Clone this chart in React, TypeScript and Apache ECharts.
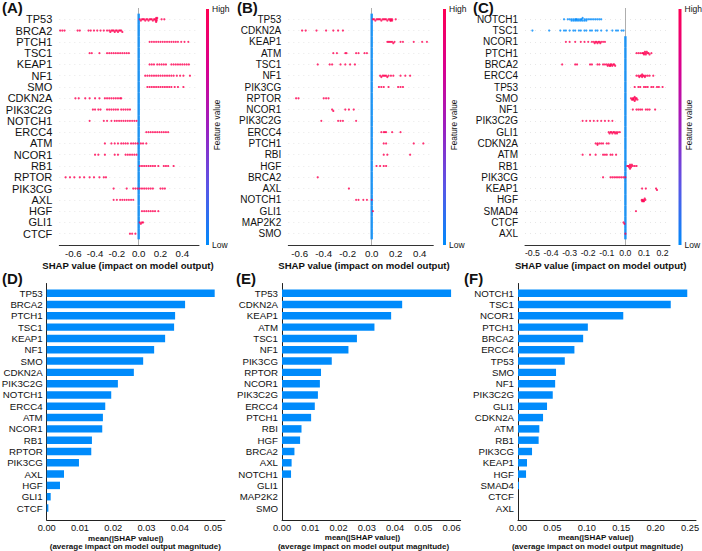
import React, { useEffect, useRef } from "react";
import * as echarts from "echarts";

// Feature order of each model (top row: beeswarm, bottom row: mean |SHAP| bars)
const genesA = ["TP53", "BRCA2", "PTCH1", "TSC1", "KEAP1", "NF1", "SMO", "CDKN2A", "PIK3C2G", "NOTCH1", "ERCC4", "ATM", "NCOR1", "RB1", "RPTOR", "PIK3CG", "AXL", "HGF", "GLI1", "CTCF"];
const genesB = ["TP53", "CDKN2A", "KEAP1", "ATM", "TSC1", "NF1", "PIK3CG", "RPTOR", "NCOR1", "PIK3C2G", "ERCC4", "PTCH1", "RBI", "HGF", "BRCA2", "AXL", "NOTCH1", "GLI1", "MAP2K2", "SMO"];
const genesC = ["NOTCH1", "TSC1", "NCOR1", "PTCH1", "BRCA2", "ERCC4", "TP53", "SMO", "NF1", "PIK3C2G", "GLI1", "CDKN2A", "ATM", "RB1", "PIK3CG", "KEAP1", "HGF", "SMAD4", "CTCF", "AXL"];

// SHAP values of the samples away from zero, one list per feature row
const shapA: number[][] = [
  [0.01, 0.02, 0.03, 0.04, 0.05, 0.06, 0.07, 0.08, 0.09, 0.10, 0.11, 0.12, 0.13, 0.14, 0.15, 0.155, 0.16, 0.16, 0.165, 0.165, 0.17, 0.21, 0.235],
  [-0.72, -0.70, -0.68, -0.56, -0.54, -0.46, -0.44, -0.41, -0.38, -0.35, -0.32, -0.29, -0.27, -0.26, -0.25, -0.24, -0.23, -0.22, -0.21, -0.20, -0.19, -0.18, -0.17, -0.16, -0.15],
  [0.10, 0.12, 0.14, 0.16, 0.18, 0.20, 0.22, 0.24, 0.26, 0.28, 0.30, 0.32, 0.34, 0.36, 0.39, 0.42, 0.455],
  [-0.45, -0.43, -0.36, -0.29, -0.27, -0.25, -0.23, -0.21, -0.19, -0.17, -0.15, -0.13, -0.11, -0.09],
  [0.10, 0.12, 0.14, 0.17, 0.19, 0.21, 0.23, 0.25, 0.30, 0.32, 0.34, 0.36, 0.38, 0.40, 0.42, 0.44, 0.46],
  [0.06, 0.08, 0.10, 0.12, 0.14, 0.16, 0.18, 0.20, 0.22, 0.24, 0.26, 0.28, 0.30, 0.32, 0.35, 0.38, 0.41, 0.47],
  [0.08, 0.10, 0.12, 0.14, 0.16, 0.18, 0.20, 0.22, 0.24, 0.26, 0.28, 0.30, 0.33, 0.36, 0.41],
  [-0.58, -0.55, -0.49, -0.45, -0.40, -0.36, -0.31, -0.29, -0.27, -0.25, -0.23, -0.21, -0.19, -0.17, -0.16],
  [-0.42, -0.40, -0.37, -0.35, -0.29, -0.27, -0.25, -0.23, -0.21, -0.19, -0.16, -0.14, -0.12, -0.10, -0.08],
  [-0.45, -0.32, -0.29, -0.25, -0.22, -0.20, -0.18, -0.16, -0.14, -0.12, -0.10, -0.08, -0.06, -0.04, -0.02],
  [0.07, 0.09, 0.11, 0.13, 0.15, 0.17, 0.19, 0.21, 0.23, 0.25, 0.27],
  [-0.31, -0.25, -0.22, -0.19, -0.16, -0.14, -0.12, -0.10, -0.07, -0.05, -0.03, -0.01, 0.02, 0.04, 0.07],
  [-0.40, -0.37, -0.31, -0.22, -0.19, -0.12, -0.10, -0.08, -0.06, -0.04, -0.02],
  [0.01, 0.03, 0.05, 0.07, 0.09, 0.11, 0.13, 0.15, 0.18, 0.23, 0.25, 0.27, 0.32],
  [-0.67, -0.63, -0.59, -0.54, -0.50, -0.45, -0.41, -0.36, -0.32, -0.30],
  [-0.23, -0.11, -0.05, -0.03, -0.01, 0.01, 0.03, 0.05, 0.07, 0.09, 0.11, 0.13, 0.20, 0.22, 0.24],
  [-0.23, -0.20, -0.17, -0.15, -0.13, -0.11, -0.09, -0.07, -0.05],
  [0.03, 0.05, 0.07, 0.09, 0.11, 0.13, 0.15, 0.18],
  [0.01, 0.02, 0.03, 0.04],
  [-0.08, -0.06, -0.03],
];

const shapB: number[][] = [
  [0.01, 0.02, 0.03, 0.04, 0.05, 0.06, 0.07, 0.08, 0.09, 0.10, 0.11, 0.12, 0.13, 0.14, 0.15, 0.155, 0.16, 0.16, 0.17, 0.17, 0.20],
  [-0.58, -0.55, -0.46, -0.38, -0.32, -0.28, -0.24],
  [0.13, 0.14, 0.15, 0.16, 0.17, 0.18, 0.19, 0.24, 0.26, 0.35, 0.42, 0.46],
  [-0.32, -0.29, -0.22, -0.21, -0.13, -0.11, -0.06, -0.04],
  [-0.45, -0.35, -0.33, -0.26, -0.22, -0.18, -0.14],
  [0.07, 0.08, 0.09, 0.10, 0.11, 0.12, 0.13, 0.14, 0.16, 0.18, 0.24, 0.28, 0.32],
  [0.06, 0.08, 0.10, 0.14, 0.22, 0.24, 0.26],
  [-0.63, -0.61, -0.40, -0.38, -0.36],
  [-0.33, -0.32, -0.22, -0.19, -0.15],
  [-0.42, -0.28, -0.26, -0.24, -0.13],
  [0.08, 0.10, 0.11, 0.12, 0.17, 0.24],
  [0.10, 0.12, 0.35, 0.43],
  [0.10, 0.13, 0.32],
  [0.04, 0.07, 0.10, 0.12],
  [-0.45],
  [-0.19],
  [-0.13, -0.11, -0.07, -0.04, 0.0],
  [0.01],
  [],
  [],
];

const shapC: number[][] = [
  [-0.33, -0.31, -0.30, -0.29, -0.29, -0.28, -0.28, -0.27, -0.27, -0.265, -0.26, -0.26, -0.25, -0.25, -0.24, -0.24, -0.235, -0.23, -0.23, -0.22, -0.22, -0.21, -0.21, -0.20, -0.19, -0.18, -0.17, -0.16, -0.15, -0.14, -0.13],
  [-0.50, -0.41, -0.35, -0.33, -0.32, -0.30, -0.28, -0.27, -0.25, -0.24, -0.22, -0.21, -0.19, -0.18, -0.16, -0.15, -0.13, -0.10, -0.07, -0.05, -0.04, -0.02, -0.01],
  [-0.32, -0.30, -0.27, -0.24, -0.22, -0.20, -0.18, -0.17, -0.165, -0.16, -0.155, -0.15, -0.145, -0.14, -0.135, -0.13, -0.12, -0.11],
  [0.06, 0.07, 0.08, 0.09, 0.095, 0.10, 0.10, 0.105, 0.11, 0.11, 0.115, 0.12, 0.125, 0.13, 0.14],
  [-0.34, -0.27, -0.26, -0.19, -0.18, -0.15, -0.14, -0.12, -0.11, -0.10, -0.095, -0.09, -0.085, -0.08, -0.08, -0.075, -0.07, -0.065, -0.06, -0.055],
  [0.06, 0.07, 0.075, 0.08, 0.085, 0.09, 0.09, 0.095, 0.10, 0.105, 0.11, 0.12, 0.13, 0.15],
  [0.05, 0.07, 0.08, 0.10, 0.11, 0.12, 0.14, 0.15, 0.17, 0.18, 0.20],
  [0.03, 0.035, 0.04, 0.04, 0.045, 0.045, 0.05, 0.05, 0.055, 0.055, 0.06, 0.065],
  [0.04, 0.06, 0.07, 0.08, 0.09, 0.11, 0.12, 0.13, 0.16],
  [-0.23, -0.21, -0.19, -0.17, -0.15, -0.13, -0.11, -0.09, -0.07],
  [-0.09, -0.085, -0.08, -0.075, -0.07, -0.065, -0.06, -0.055, -0.05, -0.045, -0.04, -0.03],
  [-0.16, -0.15, -0.15, -0.14, -0.13, -0.12, -0.10, -0.09],
  [-0.23, -0.19, -0.16, -0.12, -0.11, -0.10, -0.08, -0.07, -0.05],
  [0.01, 0.015, 0.02, 0.02, 0.025, 0.025, 0.03, 0.03, 0.035, 0.04, 0.05, 0.06],
  [-0.12, -0.08, -0.07, -0.06, -0.05, -0.04, -0.03, -0.02, -0.01, 0.0],
  [0.09, 0.11, 0.165, 0.17],
  [0.088, 0.092, 0.096, 0.10, 0.104, 0.108, 0.09, 0.10],
  [0.057],
  [-0.01, -0.005],
  [0.0],
];

// Rows in panel C whose spread samples have a low feature value
const lowRowsC = ["NOTCH1", "TSC1"];

// mean(|SHAP value|) per feature, same order as the gene lists
const meanA = [0.0505, 0.0416, 0.0386, 0.0383, 0.0356, 0.0323, 0.029, 0.0262, 0.0214, 0.0194, 0.0176, 0.0169, 0.0167, 0.0136, 0.0134, 0.0097, 0.0052, 0.004, 0.0012, 0.0005];
const meanB = [0.0598, 0.0425, 0.0386, 0.0327, 0.0265, 0.0235, 0.0176, 0.0138, 0.0134, 0.0127, 0.0116, 0.0103, 0.0069, 0.0064, 0.0044, 0.0034, 0.0032, 0, 0, 0];
const meanC = [0.246, 0.222, 0.153, 0.1015, 0.0947, 0.082, 0.068, 0.0553, 0.054, 0.0505, 0.0422, 0.0364, 0.031, 0.030, 0.0204, 0.0131, 0.0117, 0.0015, 0, 0];

// Tick labels
const ticksA = [-0.6, -0.4, -0.2, 0, 0.2, 0.4];
const ticksB = [-0.6, -0.4, -0.2, 0, 0.2, 0.4];
const ticksC = [-0.5, -0.4, -0.3, -0.2, -0.1, 0, 0.1, 0.2];
const ticksD = [0, 0.01, 0.02, 0.03, 0.04, 0.05];
const ticksE = [0, 0.01, 0.02, 0.03, 0.04, 0.05, 0.06];
const ticksF = [0, 0.05, 0.1, 0.15, 0.2, 0.25];

const FONT = "'Liberation Sans', Arial, Helvetica, sans-serif";
const RED = "#ff0052";
const BLUE = "#008bfb";
const TEXT = "#111";
const ROW_IDX = Array.from({ length: 20 }, (_, i) => i);

const fmt = (v: number, d: number) => (v < -1e-9 ? "-" : "") + Math.abs(v).toFixed(d);

// Simple beeswarm stacking: samples falling in the same x bin are spread up/down
function swarm(vals: number[], binW: number): [number, number][] {
  const pts = vals.map((v) => ({ v, b: Math.round(v / binW) })).sort((a, b) => a.b - b.b || a.v - b.v);
  let last = NaN;
  let layer = 0;
  return pts.map((p) => {
    if (p.b !== last) layer = 0;
    const off = Math.ceil(layer / 2) * ((layer % 2) * 2 - 1);
    layer++;
    last = p.b;
    return [p.v, off];
  });
}

function beeswarmSeries(idx: number, genes: string[], shap: number[][], lowRows: string[], binW: number, rowPx: number) {
  const high: number[][] = [];
  const low: number[][] = [];
  genes.forEach((g, r) => {
    swarm(shap[r], binW).forEach(([v, off]) => {
      const y = r + Math.max(-0.4, Math.min(0.4, off * 0.12));
      (lowRows.includes(g) ? low : high).push([v, y]);
    });
  });
  // most samples sit at zero with a low feature value
  const zero = genes.map((g, r) => (lowRows.includes(g) ? null : [0, r])).filter(Boolean);
  return [
    {
      type: "scatter",
      xAxisIndex: idx,
      yAxisIndex: idx,
      data: [],
      silent: true,
      z: 1,
      markLine: {
        silent: true,
        symbol: "none",
        label: { show: false },
        data: [
          ...ROW_IDX.map((r) => ({ yAxis: r, lineStyle: { color: "#d6d6d6", width: 0.6, type: [1, 4] } })),
          { xAxis: 0, lineStyle: { color: "#999999", width: 0.8, type: "solid" } },
        ],
      },
    },
    {
      type: "scatter",
      xAxisIndex: idx,
      yAxisIndex: idx,
      data: zero,
      symbol: "rect",
      symbolSize: [2.6, rowPx],
      itemStyle: { color: BLUE },
      silent: true,
      z: 10,
    },
    {
      type: "scatter",
      xAxisIndex: idx,
      yAxisIndex: idx,
      data: low,
      symbolSize: 2.2,
      itemStyle: { color: BLUE },
      silent: true,
      z: 11,
    },
    {
      type: "scatter",
      xAxisIndex: idx,
      yAxisIndex: idx,
      data: high,
      symbolSize: 2.2,
      itemStyle: { color: RED },
      silent: true,
      z: 12,
    },
  ];
}

function barSeries(idx: number, values: number[]) {
  return {
    type: "custom",
    xAxisIndex: idx,
    yAxisIndex: idx,
    data: values.map((v, i) => [v, i]),
    encode: { x: 0, y: 1 },
    silent: true,
    renderItem: (_p: any, api: any) => {
      const v = api.value(0);
      const r = api.value(1);
      if (!(v > 0)) return null;
      const p0 = api.coord([0, r]);
      const p1 = api.coord([v, r]);
      const h = api.size([0, 1])[1] * 0.66;
      return {
        type: "rect",
        shape: { x: p0[0], y: p0[1] - h / 2, width: p1[0] - p0[0], height: h },
        style: { fill: BLUE },
      };
    },
  };
}

const labelBase = {
  color: TEXT,
  fontFamily: FONT,
  showMinLabel: true,
  showMaxLabel: true,
  hideOverlap: false,
};

function topXAxis(idx: number, min: number, max: number, ticks: number[], size: number) {
  return {
    type: "value",
    gridIndex: idx,
    min,
    max,
    axisLine: { show: true, onZero: false, lineStyle: { color: "#333", width: 1 } },
    axisTick: { show: false },
    splitLine: { show: false },
    axisLabel: { ...labelBase, customValues: ticks, formatter: (v: number) => fmt(v, 1), fontSize: size, lineHeight: size, margin: 4 },
  };
}

function topYAxis(idx: number, genes: string[], size: number) {
  return {
    type: "value",
    gridIndex: idx,
    min: -1,
    max: 20,
    inverse: true,
    axisLine: { show: false },
    axisTick: { show: false },
    splitLine: { show: false },
    axisLabel: { ...labelBase, customValues: ROW_IDX, formatter: (v: number) => genes[Math.round(v)] ?? "", fontSize: size, lineHeight: 10, margin: 7 },
  };
}

function botXAxis(idx: number, max: number, ticks: number[]) {
  return {
    type: "value",
    gridIndex: idx,
    min: 0,
    max,
    axisLine: { show: true, onZero: false, lineStyle: { color: "#222", width: 1 } },
    axisTick: { show: false },
    splitLine: { show: false },
    axisLabel: { ...labelBase, customValues: ticks, formatter: (v: number) => v.toFixed(2), fontSize: 9.3, lineHeight: 9.5, margin: 3 },
  };
}

function botYAxis(idx: number, genes: string[]) {
  return {
    type: "value",
    gridIndex: idx,
    min: -0.86,
    max: 20.06,
    inverse: true,
    axisLine: { show: true, onZero: false, lineStyle: { color: "#222", width: 1 } },
    axisTick: { show: false },
    splitLine: { show: false },
    axisLabel: { ...labelBase, customValues: ROW_IDX, formatter: (v: number) => genes[Math.round(v)] ?? "", fontSize: 9.7, lineHeight: 10, margin: 4 },
  };
}

const txt = (x: number, y: number, text: string, font: string, align = "left", extra: any = {}) => ({
  type: "text",
  x,
  y,
  silent: true,
  ...extra,
  style: { text, font, fill: TEXT, textAlign: align, textVerticalAlign: "middle" },
});

function colorBar(x: number) {
  return [
    {
      type: "rect",
      silent: true,
      shape: { x, y: 9, width: 3, height: 236 },
      style: {
        fill: {
          type: "linear",
          x: 0,
          y: 0,
          x2: 0,
          y2: 1,
          colorStops: [
            { offset: 0, color: "#ff0052" },
            { offset: 0.25, color: "#d9008f" },
            { offset: 0.5, color: "#9c1fc0" },
            { offset: 0.75, color: "#5a55e6" },
            { offset: 1, color: "#008bfb" },
          ],
        },
      },
    },
    txt(x + 6, 9, "High", `8.5px ${FONT}`),
    txt(x + 6, 245, "Low", `8.5px ${FONT}`),
    txt(x + 10.5, 125, "Feature value", `8.3px ${FONT}`, "center", { rotation: Math.PI / 2 }),
  ];
}

export default function App() {
  const ref = useRef<HTMLDivElement>(null);

  useEffect(() => {
    if (!ref.current) return;
    const chart = echarts.init(ref.current, undefined, { renderer: "svg" });
    const rowPx = 237 / 21;
    const grids = [
      { left: 59.3, top: 8, width: 139.7, height: 237 },
      { left: 288.3, top: 8, width: 145, height: 237 },
      { left: 525, top: 8, width: 145, height: 237 },
      { left: 46.7, top: 283.5, width: 178.3, height: 236.5 },
      { left: 282, top: 283.5, width: 178.7, height: 236.5 },
      { left: 518, top: 283.5, width: 178, height: 236.5 },
    ].map((g) => ({ ...g, containLabel: false, outerBoundsMode: "none" }));

    const boldTitle = `bold 9.6px ${FONT}`;
    const boldSmall = `bold 8px ${FONT}`;
    const letter = `bold 15px ${FONT}`;

    const option: any = {
      animation: false,
      backgroundColor: "#ffffff",
      grid: grids,
      xAxis: [
        topXAxis(0, -0.728, 0.553, ticksA, 9.7),
        topXAxis(1, -0.695, 0.513, ticksB, 9.7),
        topXAxis(2, -0.54, 0.24, ticksC, 8.7),
        botXAxis(3, 0.0536, ticksD),
        botXAxis(4, 0.0632, ticksE),
        botXAxis(5, 0.2587, ticksF),
      ],
      yAxis: [
        topYAxis(0, genesA, 11),
        topYAxis(1, genesB, 10),
        topYAxis(2, genesC, 10),
        botYAxis(3, genesA),
        botYAxis(4, genesB),
        botYAxis(5, genesC),
      ],
      series: [
        ...beeswarmSeries(0, genesA, shapA, [], 0.014, rowPx),
        ...beeswarmSeries(1, genesB, shapB, [], 0.0125, rowPx),
        ...beeswarmSeries(2, genesC, shapC, lowRowsC, 0.008, rowPx),
        barSeries(3, meanA),
        barSeries(4, meanB),
        barSeries(5, meanC),
      ],
      graphic: [
        txt(2, 7.5, "(A)", letter),
        txt(237, 7.5, "(B)", letter),
        txt(473, 7, "(C)", letter),
        txt(2, 278, "(D)", letter),
        txt(236, 278, "(E)", letter),
        txt(464, 278, "(F)", letter),
        txt(128, 265.5, "SHAP value (impact on model output)", boldTitle, "center"),
        txt(364, 265.5, "SHAP value (impact on model output)", boldTitle, "center"),
        txt(600.7, 265.5, "SHAP value (impact on model output)", boldTitle, "center"),
        ...colorBar(206),
        ...colorBar(443),
        ...colorBar(678.5),
        txt(125.8, 538, "mean(|SHAP value|)", boldSmall, "center"),
        txt(135.3, 546, "(average impact on model output magnitude)", boldSmall, "center"),
        txt(362.5, 537.5, "mean(|SHAP value|)", boldSmall, "center"),
        txt(363.5, 546, "(average impact on model output magnitude)", boldSmall, "center"),
        txt(596, 537.5, "mean(|SHAP value|)", boldSmall, "center"),
        txt(597.5, 546, "(average impact on model output magnitude)", boldSmall, "center"),
      ],
    };
    chart.setOption(option);
    return () => chart.dispose();
  }, []);

  return (
    <div
      ref={ref}
      style={{ position: "absolute", left: 0, top: 0, width: 702, height: 551, background: "#fff" }}
    />
  );
}
